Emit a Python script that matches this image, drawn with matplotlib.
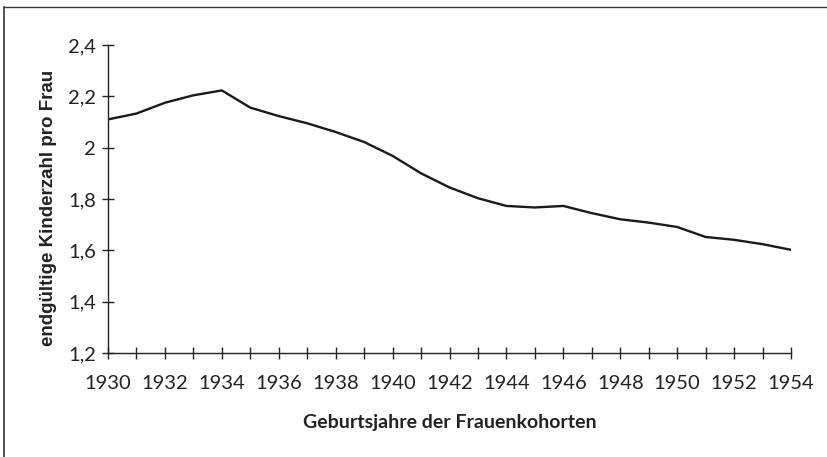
import matplotlib.pyplot as plt
from matplotlib.lines import Line2D

# Kohortenfertilität
jahre = list(range(1930, 1955))
kinderzahl = [2.11, 2.133, 2.175, 2.204, 2.223, 2.156, 2.123, 2.095, 2.061, 2.022,
              1.968, 1.900, 1.845, 1.803, 1.773, 1.767, 1.773, 1.745, 1.721, 1.708,
              1.691, 1.652, 1.641, 1.624, 1.602]
y_ticks = [1.2, 1.4, 1.6, 1.8, 2.0, 2.2, 2.4]
y_labels = ["1,2", "1,4", "1,6", "1,8", "2", "2,2", "2,4"]
x_labels = list(range(1930, 1955, 2))

W, H = 828, 457
fig = plt.figure(figsize=(W / 100, H / 100), dpi=100)
ax = fig.add_axes([108 / W, 1 - 353 / H, (791 - 108) / W, (353 - 45) / H])

ax.plot(jahre, kinderzahl, color="#1a1a1a", lw=1.7)

ax.set_xlim(1930, 1954)
ax.set_ylim(1.2, 2.4)
ax.set_xticks(jahre)
ax.set_xticklabels([str(j) if j in x_labels else "" for j in jahre])
ax.set_yticks(y_ticks)
ax.set_yticklabels(y_labels)

for s in ["top", "right"]:
    ax.spines[s].set_visible(False)
for s in ["left", "bottom"]:
    ax.spines[s].set_linewidth(1.0)
    ax.spines[s].set_color("#222222")

ax.tick_params(direction="inout", length=9, width=1.0, color="#222222",
               labelsize=14.5)
ax.tick_params(axis="x", pad=11)
ax.tick_params(axis="y", pad=4)
for lab in ax.get_xticklabels() + ax.get_yticklabels():
    lab.set_fontfamily("Lato")
    lab.set_color("#222222")

ax.set_ylabel("endgültige Kinderzahl pro Frau", fontsize=13.5, fontweight="bold",
              family="Liberation Sans", color="#222222")
ax.yaxis.set_label_coords(-0.074, 0.47)
ax.set_xlabel("Geburtsjahre der Frauenkohorten", fontsize=14, fontweight="bold",
              family="Lato", color="#222222", labelpad=16)

# Rahmen (oben und links)
fig.add_artist(Line2D([4.5 / W, 4.5 / W], [0, 1 - 6.5 / H], transform=fig.transFigure,
                      color="#333333", lw=1.2))
fig.add_artist(Line2D([4.5 / W, 1], [1 - 6.5 / H, 1 - 6.5 / H], transform=fig.transFigure,
                      color="#333333", lw=1.0))

fig.savefig("out.png", dpi=100)
